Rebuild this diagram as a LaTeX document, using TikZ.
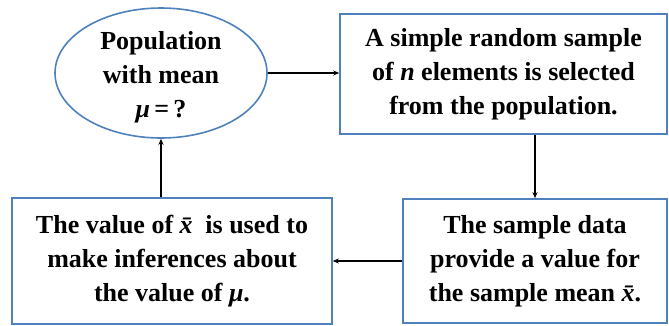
\documentclass[tikz,border=0pt]{standalone}
\usepackage{fontspec}
\setmainfont{Liberation Serif}
\usetikzlibrary{shapes.geometric,arrows.meta}
\definecolor{frameblue}{HTML}{4F81BD}
\newcommand{\mubold}{\textit{μ}}
\newcommand{\xbar}{\textit{x̄}}
\tikzset{
  every node/.style={font=\fontsize{26}{34}\selectfont\bfseries, align=center, inner sep=0pt},
  blockbox/.style={draw=frameblue, line width=1.6pt, rectangle},
  flow/.style={-{Stealth[length=6pt,width=5pt]}, line width=1.4pt, black}
}
\begin{document}
\begin{tikzpicture}[x=1pt,y=-1pt]
  \useasboundingbox (0,0) rectangle (669,325);
  \node[draw=frameblue, line width=1.6pt, ellipse, minimum width=212pt, minimum height=130pt] (pop) at (161,73) {};
  \node (poptext) at (161,77) {Population\\with mean\\\mubold\,=\,?};
  \node[blockbox, minimum width=327pt, minimum height=120pt] (srs) at (503.5,74)
    {A simple random sample\\of \textit{n} elements is selected\\from the population.};
  \node[blockbox, minimum width=264pt, minimum height=124pt] (data) at (535,261)
    {The sample data\\provide a value for\\the sample mean \xbar.};
  \node[blockbox, minimum width=320pt, minimum height=126pt] (inf) at (172,261)
    {The value of \xbar{} is used to\\make inferences about\\the value of \mubold.};
  \draw[flow] (pop.east) -- (pop.east -| srs.west);
  \draw[flow] (srs.south -| data.north) -- (data.north);
  \draw[flow] (data.west) -- (data.west -| inf.east);
  \draw[flow] (inf.north -| pop.south) -- (pop.south);
\end{tikzpicture}
\end{document}
